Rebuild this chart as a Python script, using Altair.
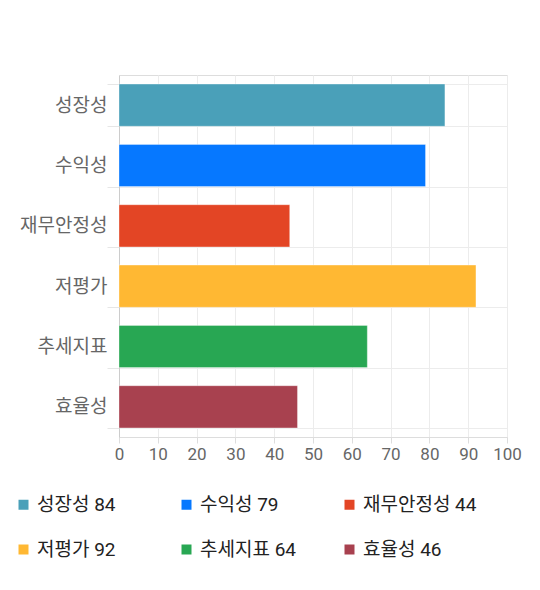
import altair as alt
import pandas as pd

categories = ["성장성", "수익성", "재무안정성", "저평가", "추세지표", "효율성"]
values = [84, 79, 44, 92, 64, 46]
colors = ["#4aa0b9", "#0678ff", "#e34525", "#ffb833", "#28a753", "#a8414f"]
x_ticks = [0, 10, 20, 30, 40, 50, 60, 70, 80, 90, 100]

legend_labels = [f"{c} {v}" for c, v in zip(categories, values)]
df = pd.DataFrame({"cat": categories, "val": values, "leg": legend_labels})

FONT = "Roboto, Noto Sans CJK KR"

bars = alt.Chart(df).mark_bar(strokeWidth=1, strokeOpacity=0.35, stroke="#ffffff").encode(
    y=alt.Y("cat:N", sort=categories, title=None,
            scale=alt.Scale(paddingInner=0.3, paddingOuter=0.15),
            axis=alt.Axis(tickBand="extent", labelFontSize=19, labelColor="#666666",
                          labelFont=FONT, labelPadding=0, tickSize=12, tickColor="#e6e6e6",
                          domainColor="#cccccc", gridColor="#ececec", grid=True)),
    x=alt.X("val:Q", title=None,
            scale=alt.Scale(domain=[0, 100], nice=False),
            axis=alt.Axis(values=x_ticks, labelFontSize=17, labelColor="#666666",
                          labelFont=FONT, tickSize=6, tickColor="#dddddd",
                          labelFlush=False, labelOverlap=False, labelBound=False,
                          domainColor="#dddddd", gridColor="#ececec", labelPadding=3)),
    color=alt.Color("leg:N", sort=legend_labels,
                    scale=alt.Scale(domain=legend_labels, range=colors),
                    legend=alt.Legend(title=None, orient="none", legendX=-105, legendY=420,
                                      direction="horizontal",
                                      columns=3, gridAlign="all", columnPadding=26,
                                      rowPadding=25, symbolType="square", symbolSize=100,
                                      symbolStrokeWidth=0, labelFontSize=19, labelColor="#222222",
                                      labelFont=FONT, labelOffset=4, labelLimit=300)),
)

chart = bars.properties(
    width=388, height=362,
    autosize=alt.AutoSizeParams(type="none"),
    padding={"left": 111, "top": 67, "right": 25, "bottom": 145},
).configure_view(stroke=None).configure(background="#ffffff")

chart.save("out.html", embed_options={"renderer": "svg", "actions": False})
